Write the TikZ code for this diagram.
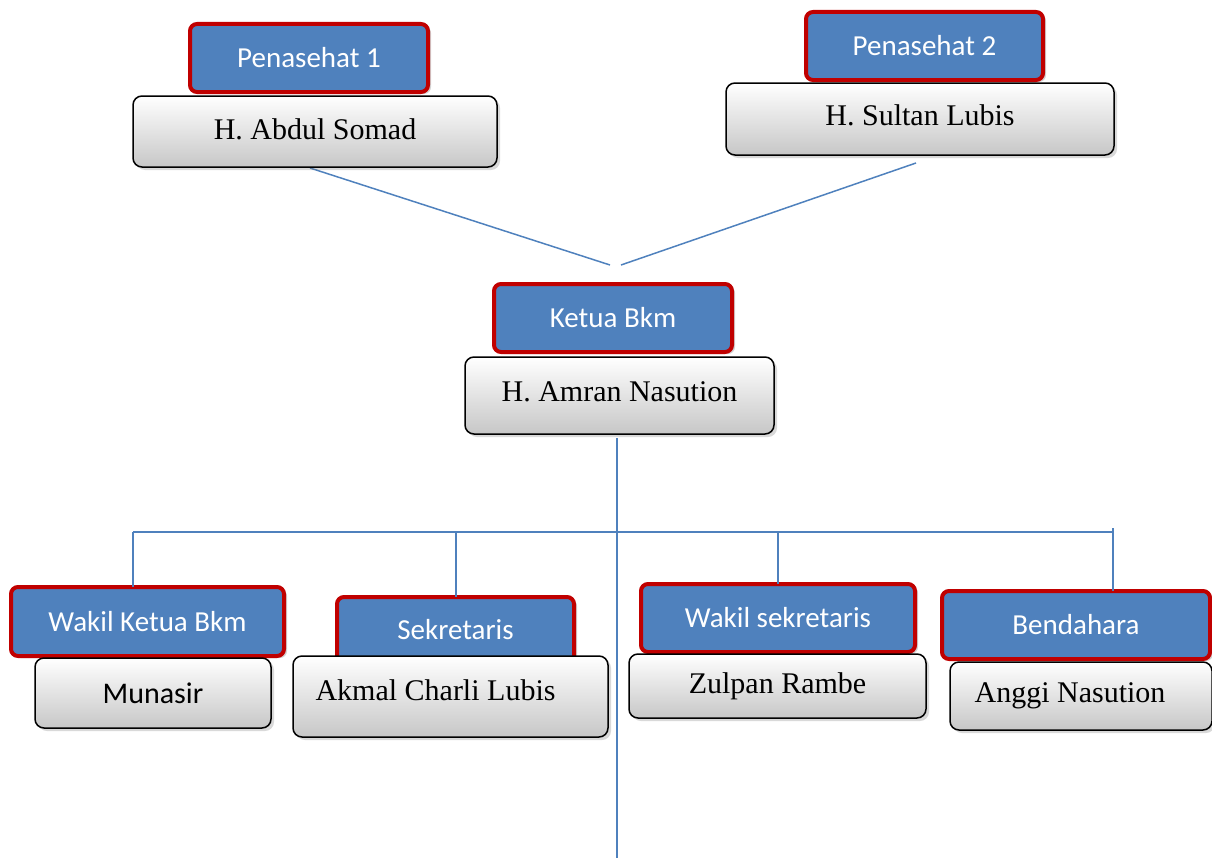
\documentclass[tikz,border=0pt]{standalone}
\usepackage{fontspec}
\setmainfont{Liberation Serif}
\newfontfamily\calfont{Carlito}
\usetikzlibrary{shadows}
\definecolor{hdrblue}{RGB}{79,129,189}
\definecolor{hdrred}{RGB}{192,0,0}
\definecolor{linkblue}{RGB}{79,129,189}
\tikzset{
  hdr/.style={draw=hdrred, line width=4pt, fill=hdrblue, rounded corners=7pt,
    inner sep=0pt, outer sep=0pt, text=white, font=\calfont\fontsize{29}{34}\selectfont,
    drop shadow={shadow xshift=3pt, shadow yshift=-2pt, opacity=0.35}},
  namebox/.style={draw=black, line width=1.5pt, rounded corners=9pt, top color=white,
    bottom color=black!22, inner sep=0pt, outer sep=0pt,
    font=\fontsize{30}{34}\selectfont,
    drop shadow={shadow xshift=3pt, shadow yshift=-3pt, opacity=0.3}},
  link/.style={draw=linkblue, line width=1.5pt}
}
\begin{document}
\begin{tikzpicture}[x=1pt,y=-1pt]
\useasboundingbox (0,0) rectangle (1212,859);
% connector points
\coordinate (j1) at (610,265);
\coordinate (j2) at (621,265);
\coordinate (bot) at (617,858);
\coordinate (hl) at (133,532);
\coordinate (hr) at (1113,532);
\coordinate (d2) at (456,532);
\coordinate (d3) at (778,532);
\coordinate (vt) at (617,438);
% header boxes
\node[hdr, minimum width=238pt, minimum height=68pt] (p1) at (309,58) {Penasehat 1};
\node[hdr, minimum width=237pt, minimum height=68pt] (p2) at (924.5,46) {Penasehat 2};
\node[hdr, minimum width=238pt, minimum height=68pt] (kt) at (613,318) {Ketua Bkm};
\node[hdr, minimum width=273pt, minimum height=69pt] (wk) at (147.5,621.5) {Wakil Ketua Bkm};
\node[hdr, minimum width=237pt, minimum height=66pt] (sk) at (455.5,630) {\raisebox{-2pt}{Sekretaris}};
\node[hdr, minimum width=274pt, minimum height=68pt] (ws) at (778,618) {\raisebox{-2pt}{Wakil sekretaris}};
\node[hdr, minimum width=268pt, minimum height=68pt] (bd) at (1076,625) {Bendahara};
% connectors
\draw[link] (310,168) coordinate (a1) -- (j1);
\draw[link] (916,163) coordinate (a2) -- (j2);
\draw[link] (vt) -- (bot);
\draw[link] (hl) -- (hr);
\draw[link] (hl) -- (hl |- wk.north);
\draw[link] (d2) -- (d2 |- sk.north);
\draw[link] (d3) -- (d3 |- ws.north);
\draw[link] (1113,528) -- (hr) -- (hr |- bd.north);
% name boxes
\node[namebox, minimum width=364pt, minimum height=71pt] (n1) at (315,131.5) {\raisebox{4pt}{H. Abdul Somad}};
\node[namebox, minimum width=388pt, minimum height=72pt] (n2) at (920,119) {\raisebox{7pt}{H. Sultan Lubis}};
\node[namebox, minimum width=309pt, minimum height=77pt] (n3) at (619.5,395.5) {\raisebox{7pt}{H. Amran Nasution}};
\node[namebox, minimum width=236pt, minimum height=70pt, font=\calfont\fontsize{30}{34}\selectfont] (n4) at (153,693) {Munasir};
\node[namebox, minimum width=315pt, minimum height=81pt] (n5) at (450.5,696.5) {\hspace*{-30pt}\raisebox{12pt}{Akmal Charli Lubis}};
\node[namebox, minimum width=297pt, minimum height=64pt] (n6) at (777.5,686) {\raisebox{-3pt}{Zulpan Rambe}};
\node[namebox, minimum width=262pt, minimum height=68pt] (n7) at (1081,696) {\hspace*{-22pt}Anggi Nasution};
\end{tikzpicture}
\end{document}
